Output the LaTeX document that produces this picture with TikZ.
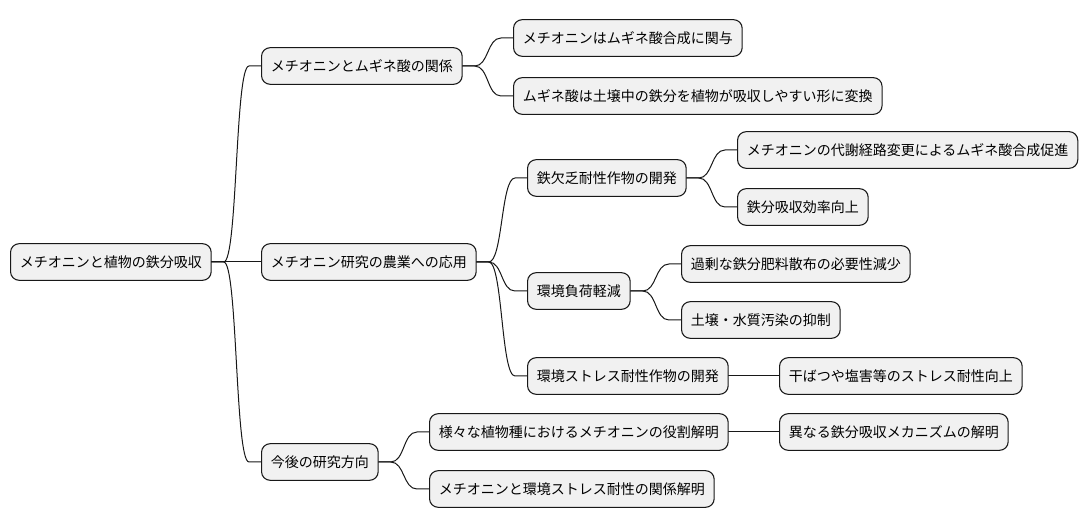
\documentclass[tikz,border=0pt]{standalone}
\usepackage{fontspec}
\newfontfamily\jpfont{Noto Sans CJK JP}
\usetikzlibrary{calc}
\definecolor{boxfill}{HTML}{F1F1F1}
\definecolor{boxline}{HTML}{181818}
\newcommand{\branch}[2]{%
  \draw[link] (#1.east) -- ++(12,0) .. controls +(14,0) and ($(#2.west)+(-26,0)$)
    .. ($(#2.west)+(-12,0)$) -- (#2.west);}

\begin{document}
\begin{tikzpicture}[
  x=0.75pt, y=-0.75pt,
  line join=round, line cap=round,
  topic/.style={draw=boxline, fill=boxfill, line width=0.8pt, rounded corners=6.5pt,
    anchor=west, inner xsep=7pt, inner ysep=0pt, minimum height=27.5pt,
    font=\jpfont\fontsize{10.5}{12}\selectfont},
  link/.style={draw=boxline, line width=0.75pt},
]
\useasboundingbox[fill=white] (0,0) rectangle (1090,527);

% ── the root and the three main branches ─────────────────────────────────
\node[topic] (root) at (10,262) {メチオニンと植物の鉄分吸収};
\node[topic] (rel)  at (261,66) {メチオニンとムギネ酸の関係};
\node[topic] (agri) at (261,262) {メチオニン研究の農業への応用};
\node[topic] (fut)  at (261,462) {今後の研究方向};

% ── methionine and mugineic acid ──────────────────────────────────────────
\node[topic] (rel1) at (513,38) {メチオニンはムギネ酸合成に関与};
\node[topic] (rel2) at (513,96) {ムギネ酸は土壌中の鉄分を植物が吸収しやすい形に変換};

% ── uses in farming ───────────────────────────────────────────────────────
\node[topic] (iron)   at (527,178) {鉄欠乏耐性作物の開発};
\node[topic] (iron1)  at (737,150) {メチオニンの代謝経路変更によるムギネ酸合成促進};
\node[topic] (iron2)  at (737,207) {鉄分吸収効率向上};
\node[topic] (env)    at (527,291) {環境負荷軽減};
\node[topic] (env1)   at (681,264) {過剰な鉄分肥料散布の必要性減少};
\node[topic] (env2)   at (681,320) {土壌・水質汚染の抑制};
\node[topic] (stress) at (527,376) {環境ストレス耐性作物の開発};
\node[topic] (stress1) at (779,376) {干ばつや塩害等のストレス耐性向上};

% ── future research ───────────────────────────────────────────────────────
\node[topic] (fut1)  at (429,432) {様々な植物種におけるメチオニンの役割解明};
\node[topic] (fut11) at (779,432) {異なる鉄分吸収メカニズムの解明};
\node[topic] (fut2)  at (429,489) {メチオニンと環境ストレス耐性の関係解明};

% ── connectors ────────────────────────────────────────────────────────────
\branch{root}{rel}
\draw[link] (root) -- (agri);
\branch{root}{fut}
\branch{rel}{rel1}
\branch{rel}{rel2}
\branch{agri}{iron}
\branch{agri}{env}
\branch{agri}{stress}
\branch{iron}{iron1}
\branch{iron}{iron2}
\branch{env}{env1}
\branch{env}{env2}
\draw[link] (stress) -- (stress1);
\branch{fut}{fut1}
\branch{fut}{fut2}
\draw[link] (fut1) -- (fut11);

\end{tikzpicture}
\end{document}
